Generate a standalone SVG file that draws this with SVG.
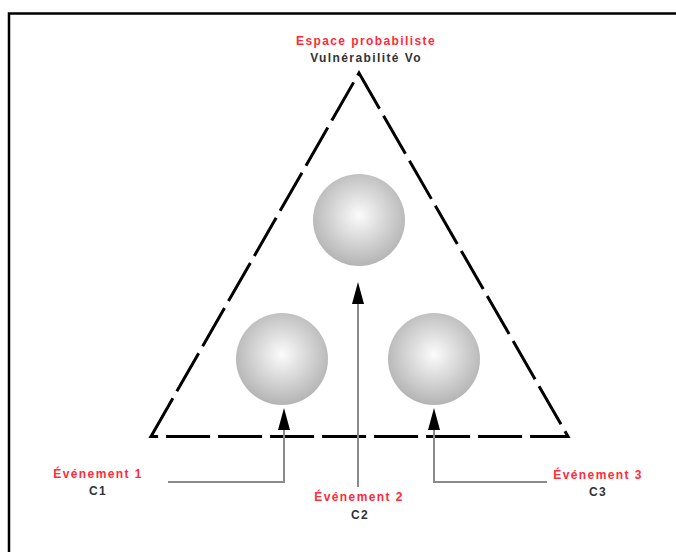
<svg xmlns="http://www.w3.org/2000/svg" width="676" height="552" viewBox="0 0 676 552">
<style>
.t{font-family:"Liberation Sans",Arial,sans-serif;font-weight:bold;font-size:12px;text-anchor:middle;letter-spacing:1.4px}
.red{fill:#ff2a3a}
.blk{fill:#333}
.conn{fill:none;stroke:#8a8a8a;stroke-width:2}
.ball{fill:url(#g)}
</style>
<defs>
<radialGradient id="g" cx="0.5" cy="0.45" r="0.55">
<stop offset="0" stop-color="#fbfbfb"/>
<stop offset="1" stop-color="#b4b4b4"/>
</radialGradient>
</defs>
<rect width="676" height="552" fill="#fff"/>
<path d="M9,552 V13.5 H676" fill="none" stroke="#000" stroke-width="2.5"/>
<g id="triangle">
<path d="M151,436.5 L359,73 L568,436.5 Z" fill="none" stroke="#000" stroke-width="3" stroke-dasharray="44,8" stroke-linejoin="miter"/>
</g>
<g id="title">
<text class="t red" x="366" y="45">Espace probabiliste</text>
<text class="t blk" x="366" y="62">Vulnérabilité Vo</text>
</g>
<g id="ball-top"><circle class="ball" cx="359" cy="220" r="46"/></g>
<g id="ball-left"><circle class="ball" cx="282" cy="359" r="46"/></g>
<g id="ball-right"><circle class="ball" cx="434" cy="359" r="46"/></g>
<g id="connectors">
<path class="conn" d="M168,482 H284 V428"/>
<path class="conn" d="M358,487 V300"/>
<path class="conn" d="M547,482 H434 V428"/>
<path d="M284,408 L278,430 L290,430 Z" fill="#000"/>
<path d="M358,282 L352,304 L364,304 Z" fill="#000"/>
<path d="M434,408 L428,430 L440,430 Z" fill="#000"/>
</g>
<g id="ev1">
<text class="t red" x="98" y="478">Événement 1</text>
<text class="t blk" x="98" y="495">C1</text>
</g>
<g id="ev2">
<text class="t red" x="359" y="501">Événement 2</text>
<text class="t blk" x="360" y="519">C2</text>
</g>
<g id="ev3">
<text class="t red" x="598" y="479">Événement 3</text>
<text class="t blk" x="598" y="496">C3</text>
</g>
</svg>
